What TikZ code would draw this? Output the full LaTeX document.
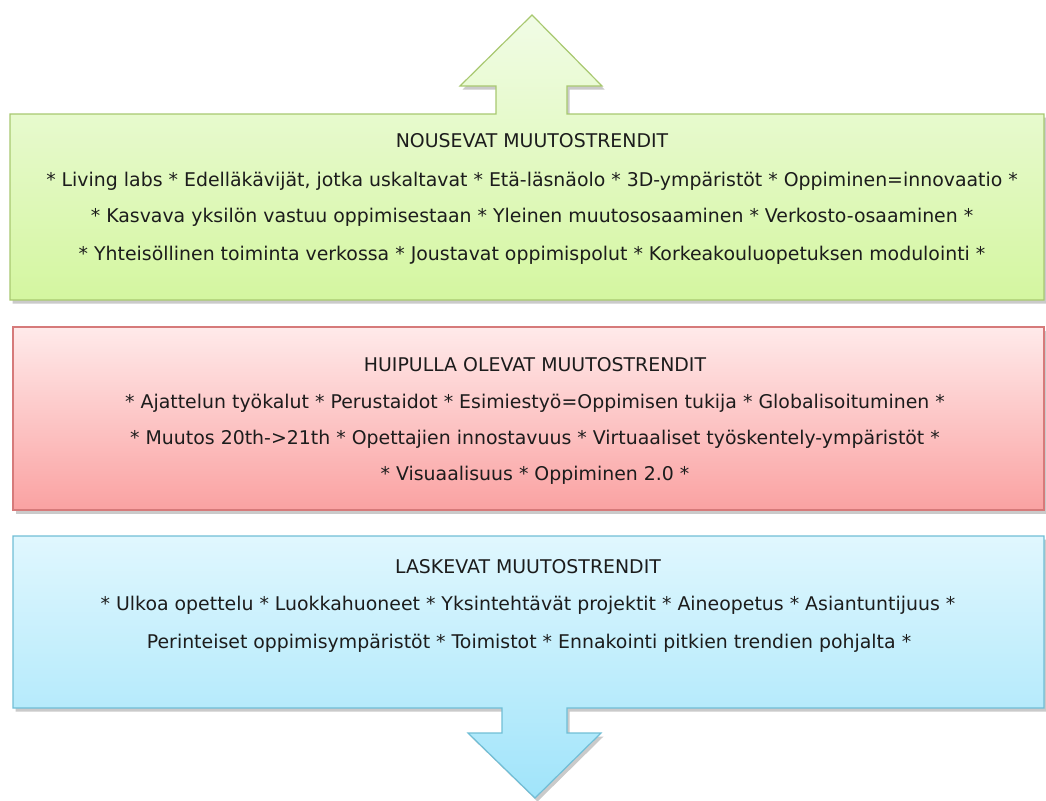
\documentclass[tikz,border=0pt]{standalone}
\usepackage{fontspec}
\setmainfont{DejaVu Sans}
\usetikzlibrary{shadows}
\definecolor{gTop}{RGB}{241,252,230}
\definecolor{gBot}{RGB}{212,246,160}
\definecolor{gLine}{RGB}{168,200,112}
\definecolor{rTop}{RGB}{255,234,234}
\definecolor{rBot}{RGB}{250,162,162}
\definecolor{rLine}{RGB}{214,122,122}
\definecolor{bTop}{RGB}{224,247,254}
\definecolor{bBot}{RGB}{160,228,250}
\definecolor{bLine}{RGB}{112,190,214}
\definecolor{ink}{RGB}{28,28,28}
\begin{document}
\begin{tikzpicture}[x=1pt,y=-1pt,
  panel/.style={line width=1.2pt, line join=miter,
    drop shadow={shadow xshift=2.5pt, shadow yshift=-3.5pt, opacity=0.35, fill=black!60}},
  label/.style={font=\fontsize{18.9}{22}\selectfont, text=ink, inner sep=0pt, anchor=center}]
\useasboundingbox (0,0) rectangle (1046,800);

% rising trends: panel merged with the up arrow
\path[panel, draw=gLine, top color=gTop, bottom color=gBot]
  (10,114) -- (496,114) -- (496,86) -- (460,86) -- (532,15) -- (602,86)
  -- (567,86) -- (567,114) -- (1044,114) -- (1044,300) -- (10,300) -- cycle;

% peak trends
\path[panel, draw=rLine, top color=rTop, bottom color=rBot]
  (13,327) rectangle (1044,510);

% declining trends: panel merged with the down arrow
\path[panel, draw=bLine, top color=bTop, bottom color=bBot]
  (13,536) -- (1044,536) -- (1044,708) -- (567,708) -- (567,733) -- (601,733)
  -- (535,798) -- (468,733) -- (502,733) -- (502,708) -- (13,708) -- cycle;

\node[label] (g0) at (532,141) {NOUSEVAT MUUTOSTRENDIT};
\node[label] (g1) at (532,181) {* Living labs * Edelläkävijät, jotka uskaltavat * Etä-läsnäolo * 3D-ympäristöt * Oppiminen=innovaatio *};
\node[label] (g2) at (532,217) {* Kasvava yksilön vastuu oppimisestaan * Yleinen muutososaaminen * Verkosto-osaaminen *};
\node[label] (g3) at (532,255) {* Yhteisöllinen toiminta verkossa * Joustavat oppimispolut * Korkeakouluopetuksen modulointi *};

\node[label] (r0) at (535,365) {HUIPULLA OLEVAT MUUTOSTRENDIT};
\node[label] (r1) at (535,403) {* Ajattelun työkalut * Perustaidot * Esimiestyö=Oppimisen tukija * Globalisoituminen *};
\node[label] (r2) at (535,439) {* Muutos 20th->21th * Opettajien innostavuus * Virtuaaliset työskentely-ympäristöt *};
\node[label] (r3) at (535,475) {* Visuaalisuus * Oppiminen 2.0 *};

\node[label] (b0) at (528,567) {LASKEVAT MUUTOSTRENDIT};
\node[label] (b1) at (528,605) {* Ulkoa opettelu * Luokkahuoneet * Yksintehtävät projektit * Aineopetus * Asiantuntijuus *};
\node[label] (b2) at (529,643) {Perinteiset oppimisympäristöt * Toimistot * Ennakointi pitkien trendien pohjalta *};
\end{tikzpicture}
\end{document}
